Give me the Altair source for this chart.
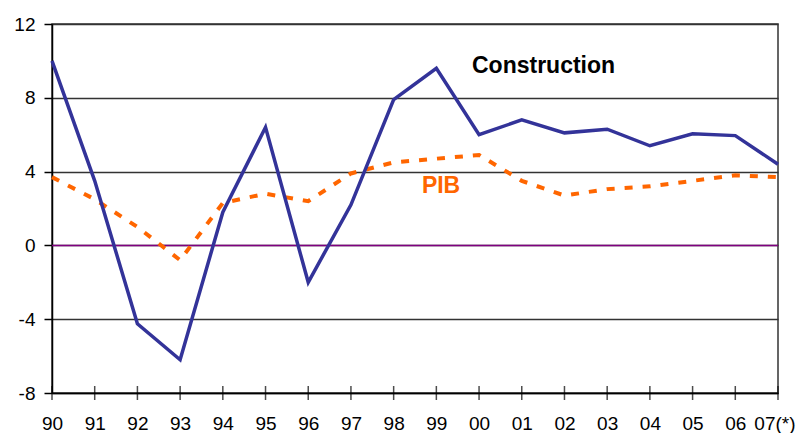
import altair as alt
import pandas as pd

years = ["90", "91", "92", "93", "94", "95", "96", "97", "98", "99",
         "00", "01", "02", "03", "04", "05", "06", "07(*)"]
construction = [10.0, 3.5, -4.25, -6.2, 1.8, 6.4, -2.0, 2.2, 7.9, 9.6,
                6.0, 6.8, 6.1, 6.3, 5.4, 6.05, 5.95, 4.4]
pib = [3.7, 2.5, 1.0, -0.8, 2.3, 2.8, 2.4, 3.9, 4.5, 4.7,
       4.9, 3.5, 2.7, 3.05, 3.2, 3.5, 3.8, 3.7]
y_ticks = [-8, -4, 0, 4, 8, 12]
label_text = ["Construction", "PIB"]
label_x = [11.51, 9.11]
label_y = [9.32, 2.86]
label_color = ["#000000", "#FF6600"]

idx = list(range(len(years)))
df = pd.DataFrame({"i": idx, "year": years, "construction": construction, "pib": pib})
labels_js = "[" + ",".join('"%s"' % y for y in years) + "]"
last = len(years) - 1

x_scale = alt.Scale(domain=[0, last], nice=False, zero=False)
y_scale = alt.Scale(domain=[-8, 12], nice=False, zero=False)

x_axis = alt.Axis(values=idx, labelExpr=labels_js + "[datum.value]", ticks=False,
                  tickSize=0, labelPadding=21, labelFont="Liberation Sans",
                  labelFontSize=19, labelColor="#000", domainColor="#000",
                  domainWidth=1.5, grid=False, title=None,
                  labelOverlap=False, labelBound=False, labelFlush=False,
                  labelAlign=alt.condition("datum.value == %d" % last, alt.value("right"), alt.value("center")),
                  labelOffset=alt.condition("datum.value == %d" % last, alt.value(17), alt.value(0)))
y_axis = alt.Axis(values=y_ticks, labelExpr="'' + datum.value", tickSize=8,
                  tickColor="#000", tickWidth=1.5,
                  labelPadding=9, labelFont="Liberation Sans", labelFontSize=19,
                  labelColor="#000", domainColor="#000", domainWidth=1.5,
                  grid=True, gridColor="#333", gridWidth=1.5, title=None,
                  labelOverlap=False)

base = alt.Chart(df)

grid_layer = base.mark_line(opacity=0).encode(
    x=alt.X("i:Q", scale=x_scale, axis=x_axis),
    y=alt.Y("construction:Q", scale=y_scale, axis=y_axis),
)

zero_df = pd.DataFrame({"v": [0]})
zero_rule = alt.Chart(zero_df).mark_rule(color="#800080", strokeWidth=1.5).encode(
    y=alt.Y("v:Q", scale=y_scale)
)

tick_df = pd.DataFrame({"i": idx, "v": [-8] * len(idx)})
ticks = alt.Chart(tick_df).mark_tick(color="#000", thickness=1.5, size=14, orient="vertical").encode(
    x=alt.X("i:Q", scale=x_scale), y=alt.Y("v:Q", scale=y_scale)
)

pib_line = base.mark_line(color="#FF6600", strokeWidth=4, strokeDash=[8, 10],
                          strokeCap="butt").encode(
    x=alt.X("i:Q", scale=x_scale), y=alt.Y("pib:Q", scale=y_scale)
)
con_line = base.mark_line(color="#333399", strokeWidth=3.5).encode(
    x=alt.X("i:Q", scale=x_scale), y=alt.Y("construction:Q", scale=y_scale)
)

lab_df = pd.DataFrame({"t": label_text, "x": label_x, "y": label_y, "c": label_color})
labels = alt.Chart(lab_df).mark_text(font="Liberation Sans", fontSize=23, fontWeight="bold",
                                     align="center", baseline="alphabetic").encode(
    x=alt.X("x:Q", scale=x_scale), y=alt.Y("y:Q", scale=y_scale),
    text="t:N", color=alt.Color("c:N", scale=None)
)

chart = alt.layer(grid_layer, zero_rule, ticks, pib_line, con_line, labels).properties(
    width=726, height=369,
    autosize=alt.AutoSizeParams(type="none"),
    padding={"left": 44, "top": 16, "right": 19, "bottom": 40},
    background="white",
).configure_view(stroke="#333", strokeWidth=1.5)

chart.save("out.html", embed_options={"renderer": "svg", "actions": False})
